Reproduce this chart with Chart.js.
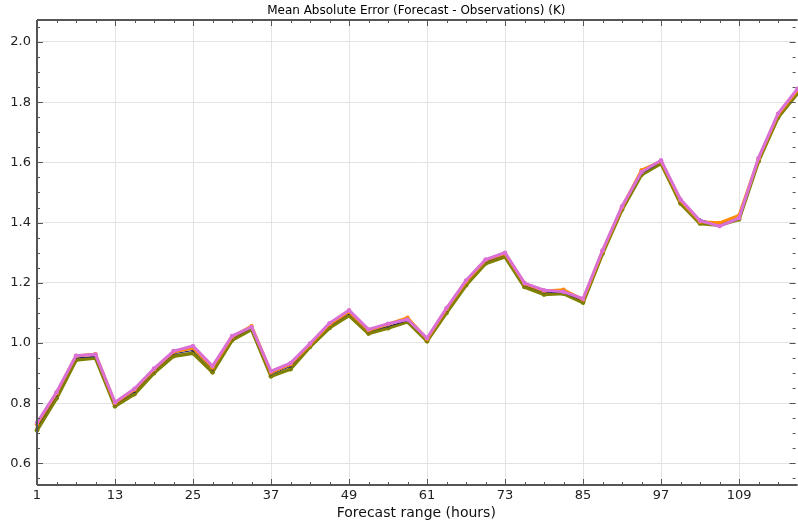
<!DOCTYPE html>
<html>
<head>
<meta charset="utf-8">
<script src="https://cdn.jsdelivr.net/npm/chart.js@4.4.1/dist/chart.umd.min.js"></script>
<style>
  html, body { margin: 0; padding: 0; background: #fff; }
  #wrap { width: 798px; height: 524px; position: relative; }
</style>
</head>
<body>
<div id="wrap"><canvas id="c" width="798" height="524"></canvas></div>
<script>
const hours = [1,4,7,10,13,16,19,22,25,28,31,34,37,40,43,46,49,52,55,58,61,64,67,70,73,76,79,82,85,88,91,94,97,100,103,106,109,112,115,118];
const xTickLabels = [1,13,25,37,49,61,73,85,97,109];
const yTickLabels = [0.6,0.8,1.0,1.2,1.4,1.6,1.8,2.0];

const seriesOlive = [0.710,0.816,0.943,0.950,0.790,0.830,0.900,0.956,0.966,0.903,1.009,1.045,0.889,0.913,0.987,1.050,1.091,1.031,1.049,1.070,1.006,1.100,1.192,1.264,1.286,1.186,1.161,1.164,1.134,1.297,1.443,1.559,1.596,1.463,1.397,1.391,1.411,1.604,1.749,1.830];
const seriesNavy = [0.720,0.825,0.950,0.955,0.795,0.838,0.906,0.964,0.975,0.912,1.015,1.050,0.896,0.922,0.992,1.057,1.098,1.038,1.055,1.074,1.010,1.107,1.200,1.270,1.293,1.192,1.168,1.167,1.140,1.302,1.448,1.563,1.601,1.470,1.410,1.393,1.413,1.608,1.755,1.837];
const seriesOrange = [0.730,0.833,0.957,0.963,0.800,0.845,0.912,0.970,0.983,0.918,1.020,1.056,0.902,0.929,0.995,1.062,1.104,1.042,1.062,1.084,1.013,1.113,1.204,1.275,1.297,1.197,1.173,1.177,1.144,1.305,1.451,1.574,1.604,1.474,1.403,1.399,1.424,1.612,1.759,1.840];
const seriesOrchid = [0.735,0.836,0.958,0.962,0.803,0.848,0.915,0.973,0.990,0.923,1.023,1.053,0.906,0.933,0.998,1.066,1.109,1.045,1.064,1.078,1.016,1.116,1.208,1.277,1.300,1.199,1.175,1.170,1.147,1.308,1.454,1.568,1.607,1.477,1.406,1.388,1.415,1.615,1.762,1.845];

function pts(arr) { return hours.map((h, i) => ({ x: h, y: arr[i] })); }

const frameColor = '#555555';

const framePlugin = {
  id: 'frameTicks',
  afterDraw(chart) {
    const ctx = chart.ctx;
    const a = chart.chartArea;
    const xs = chart.scales.x, ys = chart.scales.y;
    ctx.save();
    ctx.strokeStyle = frameColor;
    ctx.lineWidth = 1;
    for (let h = 1; h <= 118; h += 3) {
      const px = Math.round(xs.getPixelForValue(h)) + 0.5;
      const major = xTickLabels.includes(h);
      const len = major ? 6 : 3;
      ctx.beginPath();
      ctx.moveTo(px, a.bottom); ctx.lineTo(px, a.bottom - len);
      ctx.moveTo(px, a.top); ctx.lineTo(px, a.top + len);
      ctx.stroke();
    }
    for (let k = 11; k <= 41; k++) {
      const v = k * 0.05;
      const py = Math.round(ys.getPixelForValue(v)) + 0.5;
      const major = (k % 4 === 0);
      const len = major ? 6 : 3;
      ctx.beginPath();
      ctx.moveTo(a.left, py); ctx.lineTo(a.left + len, py);
      ctx.moveTo(a.right, py); ctx.lineTo(a.right - len, py);
      ctx.stroke();
    }
    ctx.lineWidth = 2;
    ctx.beginPath();
    ctx.moveTo(a.left, a.top); ctx.lineTo(a.right + 2, a.top);
    ctx.moveTo(a.left, a.top); ctx.lineTo(a.left, a.bottom);
    ctx.moveTo(a.left, a.bottom); ctx.lineTo(a.right + 2, a.bottom);
    ctx.stroke();
    ctx.restore();
  }
};

const ds = (label, arr, color, width, r) => ({
  label, data: pts(arr), borderColor: color, backgroundColor: color,
  borderWidth: width, pointRadius: r, pointBorderWidth: 0, pointHoverRadius: r,
  tension: 0, fill: false, clip: 4
});

new Chart(document.getElementById('c'), {
  type: 'line',
  data: {
    datasets: [
      ds('D', seriesOrchid, '#da70d6', 3, 2.2),
      ds('C', seriesOrange, '#ff8c00', 3, 2.2),
      ds('B', seriesNavy, '#191970', 1, 1.2),
      ds('A', seriesOlive, '#808000', 3.5, 2.4)
    ]
  },
  options: {
    responsive: false,
    animation: false,
    devicePixelRatio: 1,
    layout: { padding: { left: 0, right: 1, top: 0, bottom: 0 } },
    plugins: {
      legend: { display: false },
      tooltip: { enabled: false },
      title: {
        display: true,
        fullSize: false,
        text: 'Mean Absolute Error (Forecast - Observations) (K)',
        color: '#000',
        font: { family: 'DejaVu Sans', size: 12, weight: 'normal', lineHeight: 1.2 },
        padding: { top: 4, bottom: 1.6 }
      }
    },
    scales: {
      x: {
        type: 'linear',
        min: 1, max: 117.7,
        afterBuildTicks(s) { s.ticks = xTickLabels.map(v => ({ value: v })); },
        afterFit(s) { s.height = 39; },
        grid: { color: '#e3e3e3', lineWidth: 1, drawTicks: false },
        border: { display: false },
        ticks: { color: '#222', padding: 3, maxRotation: 0, autoSkip: false,
                 font: { family: 'DejaVu Sans', size: 13 } },
        title: { display: true, text: 'Forecast range (hours)', color: '#111',
                 font: { family: 'DejaVu Sans', size: 14 }, padding: { top: 0, bottom: 2 } }
      },
      y: {
        type: 'linear',
        min: 0.528, max: 2.073,
        afterBuildTicks(s) { s.ticks = yTickLabels.map(v => ({ value: v })); },
        afterFit(s) { s.width = 37; },
        grid: { color: '#e3e3e3', lineWidth: 1, drawTicks: false },
        border: { display: false },
        ticks: { color: '#222', padding: 6, autoSkip: false,
                 font: { family: 'DejaVu Sans', size: 13 },
                 callback: v => v.toFixed(1) }
      }
    }
  },
  plugins: [framePlugin]
});
</script>
</body>
</html>
